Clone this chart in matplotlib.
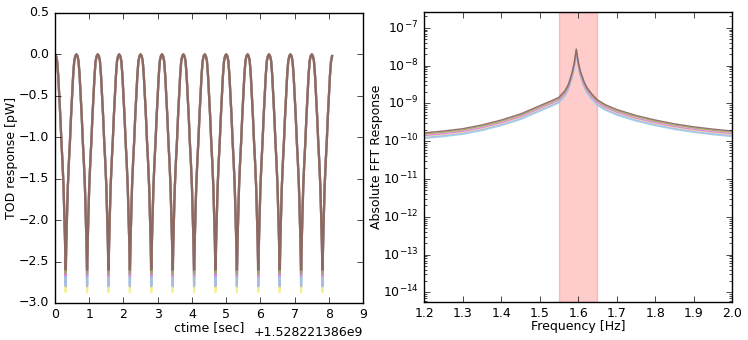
import numpy as np
import matplotlib
matplotlib.use('Agg')
import matplotlib.pyplot as plt

plt.style.use('classic')
plt.rcParams['font.family'] = 'DejaVu Sans'
plt.rcParams['font.size'] = 9
plt.rcParams['mathtext.fontset'] = 'dejavusans'
plt.rcParams['mathtext.default'] = 'regular'

# --- TOD panel data ---
ctime0 = 1528221386.0
peak_times = [0.0, 0.625, 1.25, 1.875, 2.5, 3.125, 3.75, 4.375, 5.0, 5.625,
              6.25, 6.875, 7.5, 8.125]
t_end = 8.1
# shape of one half cycle, peak -> trough (fraction of half cycle, pW)
half_frac = [0.0, 0.1, 0.2, 0.3, 0.4, 0.5, 0.6, 0.7, 0.8, 0.88, 0.94]
half_val = [0.0, -0.02, -0.08, -0.25, -0.5, -0.75, -1.05, -1.3, -1.6, -1.95, -2.25]

line_colors = ['#f2f08a', '#9fd8e8', '#a9b8e8', '#e07ad8', '#9caa5e', '#8c6262']
trough_depth = [-2.87, -2.78, -2.8, -2.67, -2.64, -2.6]

# --- FFT panel data ---
freqs = [1.2, 1.25, 1.3, 1.35, 1.4, 1.45, 1.5, 1.53, 1.55, 1.566, 1.575, 1.584,
         1.59, 1.595, 1.6, 1.605, 1.615, 1.623, 1.635, 1.649, 1.67, 1.7, 1.75,
         1.8, 1.85, 1.9, 1.95, 2.0]
fft_top = [1.66e-10, 1.86e-10, 2.14e-10, 2.69e-10, 3.63e-10, 5.25e-10, 8.7e-10,
           1.17e-9, 1.45e-9, 2.2e-9, 3.3e-9, 6.5e-9, 1.25e-8, 2.75e-8, 1.3e-8,
           7.5e-9, 3.8e-9, 2.6e-9, 1.8e-9, 1.26e-9, 9.3e-10, 6.9e-10, 4.8e-10,
           3.63e-10, 2.88e-10, 2.4e-10, 2.09e-10, 1.86e-10]
fft_scale = [0.8, 0.71, 0.75, 0.85, 0.93, 1.0]
band = (1.55, 1.65)


def tod_curve(depth):
    ts, ys = [], []
    for i in range(len(peak_times) - 1):
        t0, t1 = peak_times[i], peak_times[i + 1]
        half = (t1 - t0) / 2.0
        fr = half_frac + [1.0]
        vals = half_val + [depth]
        for f, v in zip(fr, vals):
            ts.append(t0 + f * half)
            ys.append(v)
        for f, v in zip(fr[::-1][1:], vals[::-1][1:]):
            ts.append(t1 - f * half)
            ys.append(v)
    ts = np.array(ts)
    ys = np.array(ys)
    keep = ts <= t_end
    return ts[keep], ys[keep]


fig = plt.figure(figsize=(7.48, 3.4), dpi=100, facecolor='white')
ax1 = fig.add_axes([0.0735, 0.109, 0.412, 0.853])
ax2 = fig.add_axes([0.567, 0.112, 0.412, 0.853])

for c, d in zip(line_colors, trough_depth):
    t, y = tod_curve(d)
    ax1.plot(ctime0 + t, y, color=c, lw=1.6, alpha=0.9)

ax1.set_xlim(ctime0, ctime0 + 9)
ax1.set_ylim(-3.0, 0.5)
ax1.ticklabel_format(axis='x', useOffset=ctime0)
ax1.set_xlabel('ctime [sec]', labelpad=0)
ax1.set_ylabel('TOD response [pW]', labelpad=1)

ax2.axvspan(band[0], band[1], facecolor='r', edgecolor='r', alpha=0.2)
for c, s in zip(line_colors, fft_scale):
    ax2.semilogy(freqs, np.array(fft_top) * s, color=c, lw=1.0, alpha=0.9)
ax2.set_xlim(1.2, 2.0)
ax2.set_ylim(10 ** -14.25, 10 ** -6.58)
ax2.set_xlabel('Frequency [Hz]', labelpad=0)
ax2.set_ylabel('Absolute FFT Response', labelpad=0)

fig.savefig('out.png', dpi=100, facecolor='white')
